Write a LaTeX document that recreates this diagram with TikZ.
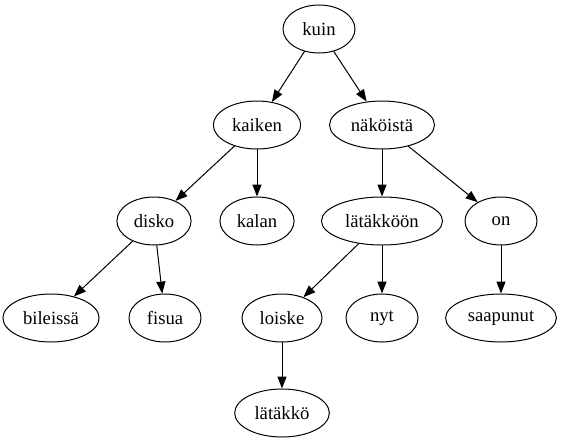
\documentclass[tikz,border=0pt]{standalone}
\usepackage{fontspec}
\setmainfont{Liberation Serif}
\usetikzlibrary{arrows.meta,shapes.geometric}

\tikzset{
  word/.style={draw,ellipse,line width=0.75pt,inner sep=4.5pt,
    minimum width=54pt,minimum height=36pt,font=\fontsize{14pt}{16pt}\selectfont},
  link/.style={line width=0.75pt,-{Triangle[length=9pt,width=6.8pt]}}
}

\begin{document}
\begin{tikzpicture}[x=0.75pt,y=-0.75pt,line cap=round,line join=round]
  \useasboundingbox (0,0) rectangle (563,443);
  % levels of the tree
  \node[word] (kuin) at (319,29) {kuin};
  \node[word] (kaiken) at (257,125) {kaiken};
  \node[word] (nakoista) at (382,125) {näköistä};
  \node[word] (disko) at (154,221) {disko};
  \node[word] (kalan) at (257,221) {kalan};
  \node[word] (latakkoon) at (382,221) {lätäkköön};
  \node[word] (on) at (501,221) {on};
  \node[word] (bileissa) at (51,318) {bileissä};
  \node[word] (fisua) at (165,318) {fisua};
  \node[word] (loiske) at (282,318) {loiske};
  \node[word] (nyt) at (382,318) {nyt};
  \node[word] (saapunut) at (501,318) {saapunut};
  \node[word] (latakko) at (282,413) {lätäkkö};
  % edges
  \draw[link] (kuin) -- (kaiken);
  \draw[link] (kuin) -- (nakoista);
  \draw[link] (kaiken) -- (disko);
  \draw[link] (kaiken) -- (kalan);
  \draw[link] (nakoista) -- (latakkoon);
  \draw[link] (nakoista) -- (on);
  \draw[link] (disko) -- (bileissa);
  \draw[link] (disko) -- (fisua);
  \draw[link] (latakkoon) -- (loiske);
  \draw[link] (latakkoon) -- (nyt);
  \draw[link] (on) -- (saapunut);
  \draw[link] (loiske) -- (latakko);
\end{tikzpicture}
\end{document}
